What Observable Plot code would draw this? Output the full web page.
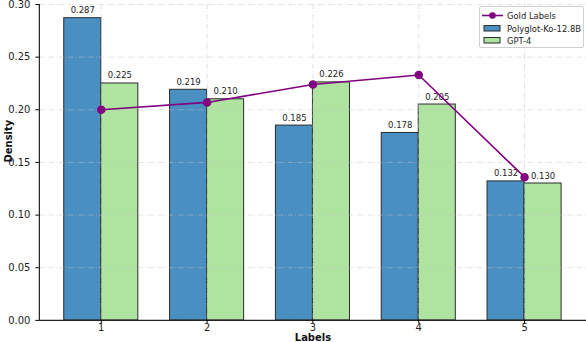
<!DOCTYPE html>
<html><head><meta charset="utf-8">
<script src="https://cdn.jsdelivr.net/npm/d3@7"></script>
<script src="https://cdn.jsdelivr.net/npm/@observablehq/plot@0.6"></script>
<style>
body{margin:0;background:#fff}
#wrap{position:relative;width:586px;height:342px;overflow:hidden;font-family:"DejaVu Sans",sans-serif}
#legend{position:absolute;left:479px;top:6px;width:105px;height:42px;box-sizing:border-box;border:1px solid #d0d0d0;border-radius:2px;background:rgba(255,255,255,0.85)}
</style>
</head><body><div id="wrap"></div>
<script>
const labels = [1, 2, 3, 4, 5];
const polyglot = [0.287, 0.219, 0.185, 0.178, 0.132];
const gpt4 = [0.225, 0.210, 0.226, 0.205, 0.130];
const gold = [0.200, 0.207, 0.224, 0.233, 0.136];
const yTicks = [0, 0.05, 0.10, 0.15, 0.20, 0.25, 0.30];
const seriesNames = ["Gold Labels", "Polyglot-Ko-12.8B", "GPT-4"];
const colors = {gold: "#800080", poly: "#4a8fc2", gpt: "#aee4a0"};
const barW = 0.35;

const rows = labels.map((l, i) => ({label: l, poly: polyglot[i], gpt: gpt4[i], gold: gold[i]}));
const xDomain = [0.415, 5.585];
const font = "DejaVu Sans";

const chart = Plot.plot({
  width: 588, height: 342,
  marginLeft: 39, marginRight: 0, marginTop: 4, marginBottom: 21,
  style: {fontFamily: font, background: "white"},
  x: {type: "linear", domain: xDomain},
  y: {domain: [0, 0.30]},
  marks: [
    Plot.rectY(rows, {x1: d => d.label - barW, x2: d => d.label, y: "poly", fill: colors.poly, stroke: "#2b2b2b", strokeWidth: 1}),
    Plot.rectY(rows, {x1: d => d.label, x2: d => d.label + barW, y: "gpt", fill: colors.gpt, stroke: "#2b2b2b", strokeWidth: 1}),
    Plot.gridY(yTicks, {stroke: "#c4c4c4", strokeOpacity: 0.55, strokeWidth: 0.9, strokeDasharray: "5,2,1,2"}),
    Plot.gridX(labels, {stroke: "#c4c4c4", strokeOpacity: 0.55, strokeWidth: 0.9, strokeDasharray: "5,2,1,2"}),
    Plot.ruleX([xDomain[0]], {stroke: "#222", strokeWidth: 1.2}),
    Plot.ruleY([0], {stroke: "#222", strokeWidth: 1.2}),
    Plot.axisX({ticks: labels, tickFormat: d => String(d), tickSize: 3.5, tickPadding: 0, fontSize: 10, label: null, fill: "#222"}),
    Plot.axisY({ticks: yTicks, tickFormat: d3.format(".2f"), tickSize: 3.5, fontSize: 10, label: null, fill: "#222"}),
    Plot.text(rows, {x: d => d.label - barW / 2, y: "poly", text: d => d.poly.toFixed(3), lineAnchor: "bottom", dy: -5, fontSize: 8.5, fill: "#222"}),
    Plot.text(rows, {x: d => d.label + barW / 2, y: "gpt", text: d => d.gpt.toFixed(3), lineAnchor: "bottom", dy: -5, fontSize: 8.5, fill: "#222"}),
    Plot.line(rows, {x: "label", y: "gold", stroke: colors.gold, strokeWidth: 1.6}),
    Plot.dot(rows, {x: "label", y: "gold", r: 3.5, fill: colors.gold, stroke: colors.gold}),
    Plot.text(["Density"], {frameAnchor: "left", rotate: -90, dx: -31, fontSize: 10, fontWeight: "bold", fill: "#111"}),
    Plot.text(["Labels"], {frameAnchor: "bottom", lineAnchor: "top", dy: 14, fontSize: 10, fontWeight: "bold", fill: "#111"})
  ]
});
const wrap = document.getElementById("wrap");
wrap.appendChild(chart);

const legend = document.createElement("div");
legend.id = "legend";
legend.innerHTML = `<svg width="105" height="42" style="font-family:'DejaVu Sans';font-size:8.4px">
  <line x1="2" x2="23" y1="8.5" y2="8.5" stroke="${colors.gold}" stroke-width="1.6"/>
  <circle cx="12.5" cy="8.5" r="3.3" fill="${colors.gold}"/>
  <text x="27" y="11.5" fill="#222">${seriesNames[0]}</text>
  <rect x="4" y="18.5" width="16" height="5.5" fill="${colors.poly}" stroke="#2b2b2b"/>
  <text x="27" y="24.5" fill="#222">${seriesNames[1]}</text>
  <rect x="4" y="30.5" width="16" height="5.5" fill="${colors.gpt}" stroke="#2b2b2b"/>
  <text x="27" y="36.5" fill="#222">${seriesNames[2]}</text>
</svg>`;
wrap.appendChild(legend);
</script>
</body></html>
